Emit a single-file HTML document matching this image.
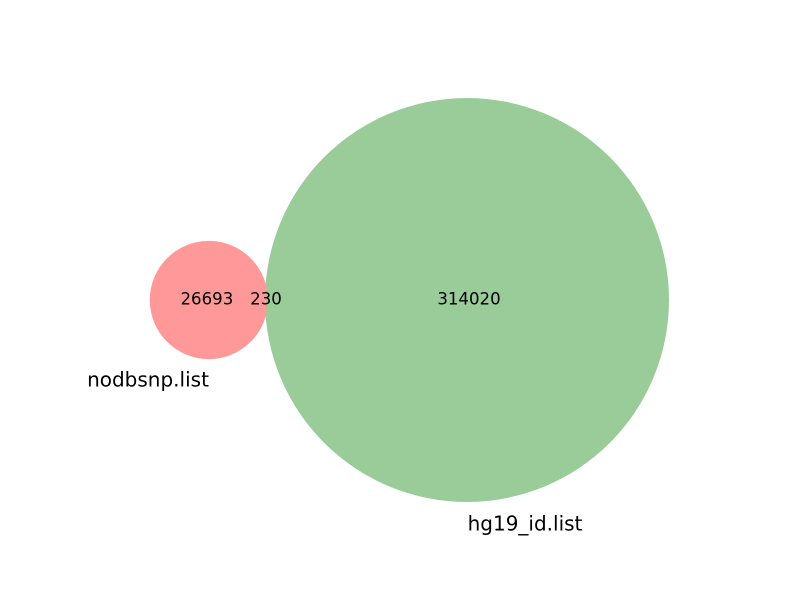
<!DOCTYPE html>
<html><head><meta charset="utf-8"><style>body{margin:0;background:#fff}svg{display:block}</style></head>
<body>
<svg id="chart" width="800" height="600" viewBox="0 0 800 600" xmlns="http://www.w3.org/2000/svg" font-family="DejaVu Sans, sans-serif"></svg>
<script>
const setNames = ["nodbsnp.list", "hg19_id.list"];
const regionLabels = ["26693", "230", "314020"];
const onlyA = [26693];
const overlap = [230];
const onlyB = [314020];

const svg = document.getElementById('chart');
const NS = 'http://www.w3.org/2000/svg';
const totalA = onlyA[0] + overlap[0], totalB = onlyB[0] + overlap[0];
const k = 202 / Math.sqrt(totalB);
const rA = k * Math.sqrt(totalA), rB = k * Math.sqrt(totalB);
const cy = 300, cxB = 467;
const cxA = cxB - (rA + rB - 3);

function circ(cx, r, fill, name) {
  const c = document.createElementNS(NS, 'circle');
  c.setAttribute('cx', cx); c.setAttribute('cy', cy); c.setAttribute('r', r);
  c.setAttribute('fill', fill);
  
  
  svg.appendChild(c);
}
function txt(x, y, s, size, anchor, name) {
  const t = document.createElementNS(NS, 'text');
  t.setAttribute('x', x); t.setAttribute('y', y);
  t.setAttribute('font-size', size); t.setAttribute('text-anchor', anchor);
  t.setAttribute('dominant-baseline', 'middle');
  t.textContent = s;
  
  
  svg.appendChild(t);
}
circ(cxA, rA, '#ff9999', 'circle-nodbsnp');
circ(cxB, rB, '#99cc99', 'circle-hg19');
const lens = document.createElementNS(NS, 'path');
const d = cxB - cxA;
const xi = (d*d - rB*rB + rA*rA) / (2*d);
const yi = Math.sqrt(Math.max(0, rA*rA - xi*xi));
lens.setAttribute('d', `M${cxA+xi},${cy-yi} A${rA},${rA} 0 0 1 ${cxA+xi},${cy+yi} A${rB},${rB} 0 0 1 ${cxA+xi},${cy-yi}Z`);
lens.setAttribute('fill', '#d0b08c');


svg.appendChild(lens);

txt(cxA - 2, cy, regionLabels[0], 16.6, 'middle', 'label-only-nodbsnp');
txt(266, cy, regionLabels[1], 16.6, 'middle', 'label-overlap');
txt(cxB + 2, cy, regionLabels[2], 16.6, 'middle', 'label-only-hg19');
txt(148, 381, setNames[0], 20, 'middle', 'set-label-nodbsnp');
txt(525, 525, setNames[1], 20, 'middle', 'set-label-hg19');
</script>
</body></html>
